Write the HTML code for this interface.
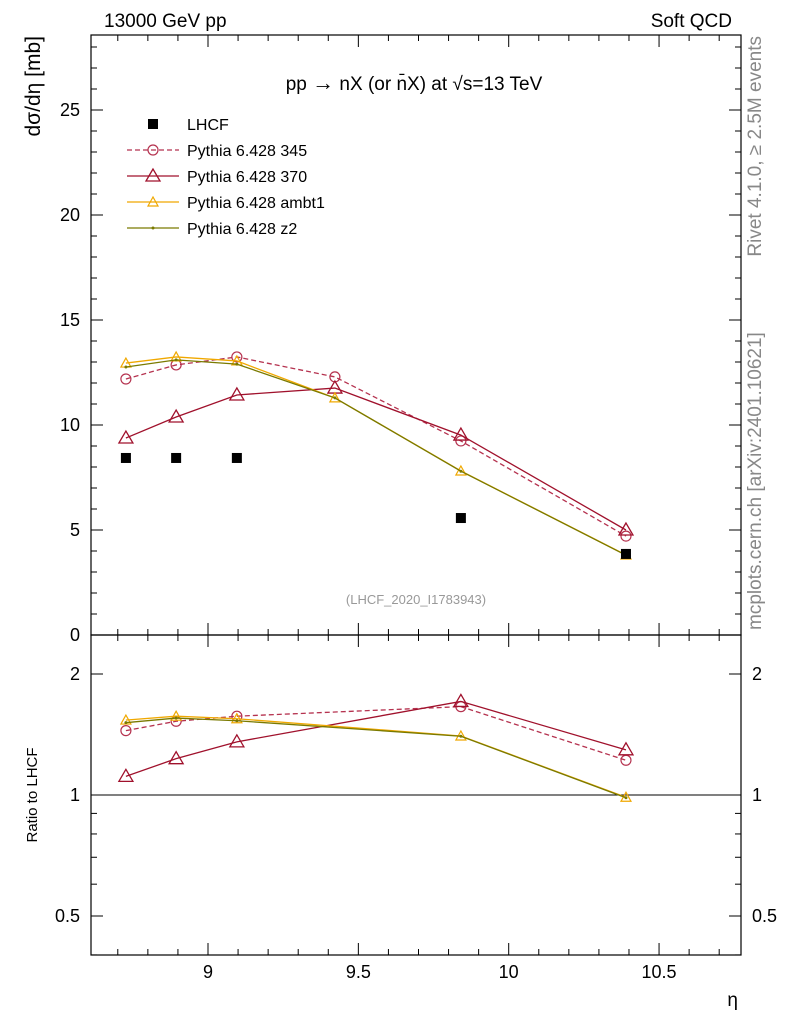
<!DOCTYPE html>
<html><head><meta charset="utf-8"><style>
body{margin:0;background:#fff;}
svg{font-family:"Liberation Sans","DejaVu Sans",sans-serif;}
</style></head><body>
<svg id="c" width="786" height="1024" xmlns="http://www.w3.org/2000/svg">
<text x="104" y="27" font-size="19">13000 GeV pp</text>
<text x="732" y="27" font-size="19" text-anchor="end">Soft QCD</text>
<text x="414" y="90" font-size="19" text-anchor="middle">pp <tspan font-size="22">→</tspan> nX (or n̄X) at √s=13 TeV</text>
<text transform="translate(40,36) rotate(-90)" font-size="21" text-anchor="end">dσ/dη [mb]</text>
<text transform="translate(37,795) rotate(-90)" font-size="15" text-anchor="middle">Ratio to LHCF</text>
<text x="738" y="1006" font-size="19" text-anchor="end">η</text>
<text transform="translate(761,36) rotate(-90)" font-size="19" fill="#888" text-anchor="end">Rivet 4.1.0, ≥ 2.5M events</text>
<text transform="translate(761,630) rotate(-90)" font-size="19" fill="#888" text-anchor="start">mcplots.cern.ch [arXiv:2401.10621]</text>
<text x="416" y="604" font-size="13" fill="#999" text-anchor="middle">(LHCF_2020_I1783943)</text>
<g id="g"></g>
</svg>
<script>
const eta=[8.727,8.894,9.096,9.422,9.841,10.39];
const lhcf=[8.43,8.43,8.43,null,5.57,3.86];
const p345=[12.19,12.86,13.24,12.29,9.24,4.71];
const p370=[9.38,10.38,11.43,11.76,9.52,5.0];
const ambt1=[12.95,13.24,13.05,11.29,7.81,3.81];
const z2=[12.76,13.1,12.9,11.29,7.8,3.8];
const xTicks=[9,9.5,10,10.5];
const yTicks=[0,5,10,15,20,25];
const rTicks=[0.5,1,2];
const L=91,R=741,T=35,M=635,B=955;
const X=v=>208+(v-9)*300.7;
const Y=v=>635-v*21;
const RY=v=>795-121*Math.log2(v);
const g=document.getElementById('g');
const NS='http://www.w3.org/2000/svg';
function el(t,a,p){const e=document.createElementNS(NS,t);for(const k in a)e.setAttribute(k,a[k]);(p||g).appendChild(e);return e;}
let f1=el('rect',{x:L,y:T,width:R-L,height:M-T,fill:'none',stroke:'#000','stroke-width':1.2});


let f2=el('rect',{x:L,y:M,width:R-L,height:B-M,fill:'none',stroke:'#000','stroke-width':1.2});


let ul=el('line',{x1:L,x2:R,y1:RY(1),y2:RY(1),stroke:'#000'});


for(let v=8.7;v<=10.75;v+=0.1){const x=X(v);const maj=xTicks.some(t=>Math.abs(t-v)<1e-6);const l=maj?12:6;
 for(const [a,b] of [[T,1],[M,-1],[M,1],[B,-1]]) el('line',{x1:x,x2:x,y1:a,y2:a+b*l,stroke:'#000'});}
xTicks.forEach(v=>{const t=el('text',{x:X(v),y:978,'font-size':18,'text-anchor':'middle'});t.textContent=v;

});
for(let v=0;v<=28;v++){const y=Y(v);const l=v%5==0?12:6;
 el('line',{x1:L,x2:L+l,y1:y,y2:y,stroke:'#000'});el('line',{x1:R,x2:R-l,y1:y,y2:y,stroke:'#000'});}
yTicks.forEach(v=>{const t=el('text',{x:80,y:Y(v)+6,'font-size':18,'text-anchor':'end'});t.textContent=v;

});
[0.4,0.5,0.6,0.7,0.8,0.9,1,2].forEach(v=>{const y=RY(v);const l=rTicks.includes(v)?12:6;
 el('line',{x1:L,x2:L+l,y1:y,y2:y,stroke:'#000'});el('line',{x1:R,x2:R-l,y1:y,y2:y,stroke:'#000'});});
rTicks.forEach(v=>{for(const [x,a] of [[80,'end'],[752,'start']]){const t=el('text',{x:x,y:RY(v)+6,'font-size':18,'text-anchor':a});t.textContent=v;

}});
const series=[
 {n:'pythia-345',d:p345,c:'#b5324f',dash:'5,3',m:'circle',lab:'Pythia 6.428 345'},
 {n:'pythia-370',d:p370,c:'#a0112c',dash:'',m:'tri',lab:'Pythia 6.428 370'},
 {n:'pythia-ambt1',d:ambt1,c:'#f0a800',dash:'',m:'tri-s',lab:'Pythia 6.428 ambt1'},
 {n:'pythia-z2',d:z2,c:'#7a7a00',dash:'',m:'dot',lab:'Pythia 6.428 z2'}];
function marker(m,x,y,c,name){let e;
 if(m=='circle')e=el('circle',{cx:x,cy:y,r:5,fill:'none',stroke:c,'stroke-width':1.2});
 else if(m=='tri')e=el('polygon',{points:`${x},${y-7} ${x-7},${y+5} ${x+7},${y+5}`,fill:'none',stroke:c,'stroke-width':1.3});
 else if(m=='tri-s')e=el('polygon',{points:`${x},${y-5} ${x-5},${y+4} ${x+5},${y+4}`,fill:'none',stroke:c,'stroke-width':1.2});
 else e=el('circle',{cx:x,cy:y,r:1.5,fill:c});
 
 }
series.forEach((s,si)=>{
 const pts=s.d.map((v,i)=>X(eta[i])+','+Y(v)).join(' ');
 const pl=el('polyline',{points:pts,fill:'none',stroke:s.c,'stroke-width':1.3,'stroke-dasharray':s.dash});
 
 
 s.d.forEach((v,i)=>marker(s.m,X(eta[i]),Y(v),s.c,s.n+'-point'));
 const rp=[];s.d.forEach((v,i)=>{if(lhcf[i])rp.push([X(eta[i]),RY(v/lhcf[i])]);});
 const rl=el('polyline',{points:rp.map(p=>p.join(',')).join(' '),fill:'none',stroke:s.c,'stroke-width':1.3,'stroke-dasharray':s.dash});
 
 
 rp.forEach(p=>marker(s.m,p[0],p[1],s.c,s.n+'-ratio-point'));
 const ly=150+26*si;
 const ll=el('line',{x1:127,x2:179,y1:ly,y2:ly,stroke:s.c,'stroke-width':1.3,'stroke-dasharray':s.dash});
 
 
 marker(s.m,153,ly,s.c,'legend-marker');
 const t=el('text',{x:187,y:ly+6,'font-size':16});t.textContent=s.lab;
 
 
});
lhcf.forEach((v,i)=>{if(v==null)return;const r=el('rect',{x:X(eta[i])-5,y:Y(v)-5,width:10,height:10,fill:'#000'});

});
const lr=el('rect',{x:148,y:119,width:10,height:10,fill:'#000'});


const lt=el('text',{x:187,y:130,'font-size':16});lt.textContent='LHCF';


</script>
</body></html>
